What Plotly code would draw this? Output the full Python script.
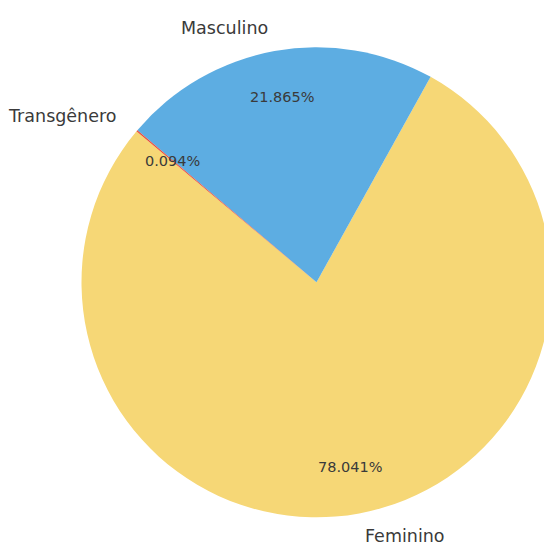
import math
import plotly.graph_objects as go

# Gender distribution (percent of records)
categories = ["Feminino", "Masculino", "Transgênero"]
values = [78.041, 21.865, 0.094]
pct_labels = ["78.041%", "21.865%", "0.094%"]
colors = ["#F6D776", "#5DADE2", "#E74C3C"]

W, H = 560, 548
cx, cy, r = 316.5, 282.3, 235.0   # pie centre and radius in pixels
start_angle = 140.0               # degrees, counter-clockwise from 3 o'clock
label_dist, pct_dist = 1.1, 0.8

total = sum(values)
# plotly's counter-clockwise pies put the first slice's far edge at `rotation`
# (measured clockwise from 12 o'clock)
first_end = start_angle + 360.0 * values[0] / total
rotation = (90.0 - first_end) % 360.0

fig = go.Figure(
    go.Pie(
        labels=categories,
        values=values,
        sort=False,
        direction="counterclockwise",
        rotation=rotation,
        marker=dict(colors=colors, line=dict(width=0)),
        textinfo="none",
        hoverinfo="label+percent",
        showlegend=False,
        domain=dict(
            x=[(cx - r) / W, (cx + r) / W],
            y=[1 - (cy + r) / H, 1 - (cy - r) / H],
        ),
    )
)

# Category names outside the pie, percentages inside, placed at each wedge's mid-angle
acc = 0.0
annotations = []
for name, v, pct in zip(categories, values, pct_labels):
    mid = math.radians(start_angle + 360.0 * (acc + v / 2) / total)
    acc += v
    cosm, sinm = math.cos(mid), math.sin(mid)
    lx, ly = cx + label_dist * r * cosm, cy - label_dist * r * sinm
    px, py = cx + pct_dist * r * cosm, cy - pct_dist * r * sinm
    annotations.append(dict(
        x=lx / W, y=1 - ly / H, xref="paper", yref="paper",
        text=name, showarrow=False,
        xanchor="left" if cosm > 0 else "right", yanchor="middle",
        font=dict(family="DejaVu Sans", size=17.5, color="#3a3a3a"),
    ))
    annotations.append(dict(
        x=px / W, y=1 - py / H, xref="paper", yref="paper",
        text=pct, showarrow=False, xanchor="center", yanchor="middle",
        font=dict(family="DejaVu Sans", size=14.5, color="#3a3a3a"),
    ))

fig.update_layout(
    width=W,
    height=H,
    margin=dict(l=0, r=0, t=0, b=0),
    paper_bgcolor="white",
    plot_bgcolor="white",
    annotations=annotations,
)

fig.write_html(
    "out.html",
    post_script="document.documentElement.style.overflow='hidden';"
                "document.body.style.overflow='hidden';"
                "document.body.style.margin='0';",
)
